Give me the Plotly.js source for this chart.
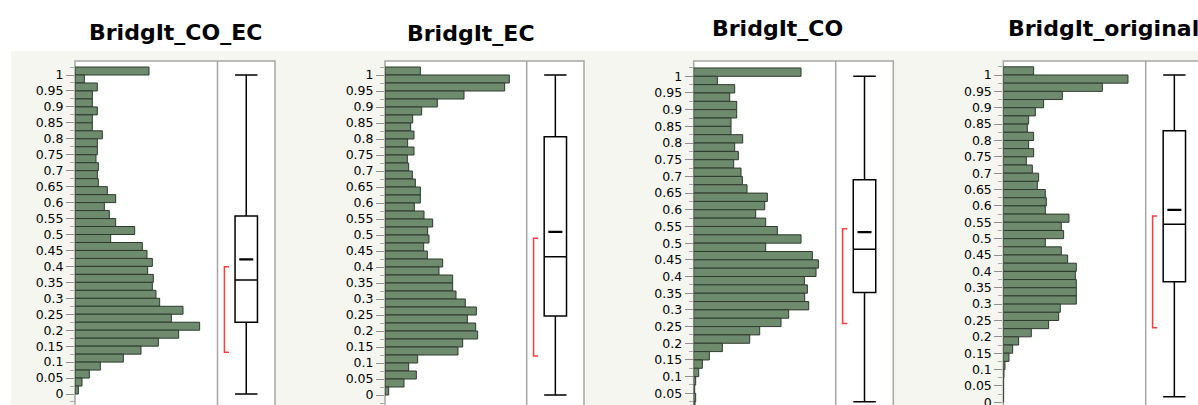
<!DOCTYPE html>
<html>
<head>
<meta charset="utf-8">
<script src="https://cdn.plot.ly/plotly-3.0.1.min.js"></script>
<style>
  html, body { margin: 0; padding: 0; background: #ffffff; }
  #chart { width: 1198px; height: 405px; }
</style>
</head>
<body>
<div id="chart"></div>
<script>
// ---------- DATA ----------
// lower edge of each histogram bin (bin width 0.025), top to bottom
const binStart = [1.0, 0.975, 0.95, 0.925, 0.9, 0.875, 0.85, 0.825, 0.8, 0.775,
  0.75, 0.725, 0.7, 0.675, 0.65, 0.625, 0.6, 0.575, 0.55, 0.525,
  0.5, 0.475, 0.45, 0.425, 0.4, 0.375, 0.35, 0.325, 0.3, 0.275,
  0.25, 0.225, 0.2, 0.175, 0.15, 0.125, 0.1, 0.075, 0.05, 0.025, 0];

// bar lengths (relative counts) per bin, same order as binStart
const countsCoEc = [222, 28, 67, 52, 52, 67, 52, 52, 82, 67,
  67, 63, 70, 67, 70, 97, 122, 88, 103, 122,
  179, 107, 202, 216, 232, 218, 235, 232, 243, 254,
  324, 289, 374, 311, 250, 198, 145, 76, 43, 21, 10];
const countsEc = [106, 373, 359, 237, 157, 110, 83, 77, 87, 68,
  87, 67, 71, 82, 91, 106, 106, 88, 117, 143,
  128, 132, 116, 127, 173, 162, 203, 203, 213, 241,
  274, 247, 272, 278, 233, 219, 98, 71, 94, 57, 11];
const countsCo = [322, 71, 123, 108, 129, 129, 112, 112, 147, 123,
  134, 120, 142, 146, 160, 221, 213, 186, 216, 251,
  322, 216, 356, 374, 367, 332, 341, 333, 345, 285,
  262, 198, 168, 86, 47, 26, 15, 6, 3, 6, 4];
const countsOriginal = [91, 374, 297, 177, 121, 96, 76, 72, 91, 76,
  91, 69, 87, 106, 102, 126, 129, 126, 197, 174,
  181, 126, 174, 193, 219, 216, 219, 219, 219, 171,
  166, 136, 84, 46, 28, 17, 5, 2, 1, 1, 1];

// box plot summaries: [lower whisker, q1, median, q3, upper whisker]
const boxCoEc     = [0.0,   0.225, 0.357, 0.558, 1.0];
const boxEc       = [0.0,   0.247, 0.432, 0.807, 1.0];
const boxCo       = [0.025, 0.352, 0.4815, 0.690, 1.0];
const boxOriginal = [0.017, 0.368, 0.544, 0.830, 1.0];
const means = [0.422, 0.510, 0.533, 0.588];
// shortest half [low, high]
const shortestHalf = [[0.131, 0.399], [0.122, 0.490], [0.259, 0.543], [0.228, 0.569]];

const titles = ['BridgIt_CO_EC', 'BridgIt_EC', 'BridgIt_CO', 'BridgIt_original'];

const tickVals = [0, 0.05, 0.1, 0.15, 0.2, 0.25, 0.3, 0.35, 0.4, 0.45, 0.5,
  0.55, 0.6, 0.65, 0.7, 0.75, 0.8, 0.85, 0.9, 0.95, 1];
const tickText = ['0', '0.05', '0.1', '0.15', '0.2', '0.25', '0.3', '0.35', '0.4', '0.45', '0.5',
  '0.55', '0.6', '0.65', '0.7', '0.75', '0.8', '0.85', '0.9', '0.95', '1'];

// ---------- LAYOUT GEOMETRY (pixels) ----------
const W = 1198, H = 405;
const px = x => x / W;
const py = y => 1 - y / H;

const panels = [
  { counts: countsCoEc, box: boxCoEc, left: 75,     divider: 217.5, right: 275,    top: 61, y1: 75,   y0: 394,   tx: 175,  ty: 32,   tanchor: 'center' },
  { counts: countsEc,   box: boxEc,   left: 385,    divider: 526.7, right: 584,    top: 61, y1: 75,   y0: 395,   tx: 471,  ty: 33,   tanchor: 'center' },
  { counts: countsCo,   box: boxCo,   left: 693.7,  divider: 835.7, right: 893.3,  top: 61, y1: 76.3, y0: 410,   tx: 777,  ty: 28.5, tanchor: 'center' },
  { counts: countsOriginal, box: boxOriginal, left: 1003.3, divider: 1145.7, right: 1203, top: 61, y1: 75, y0: 402.3, tx: 1006, ty: 28.5, tanchor: 'left' }
];

const barColor = '#6f8b6e';
const barLine = '#2e3a2e';
const frameColor = '#a6a6a6';

const traces = [];
const layout = {
  width: W, height: H,
  margin: { l: 0, r: 0, t: 0, b: 0, pad: 0 },
  paper_bgcolor: '#ffffff',
  plot_bgcolor: 'rgba(0,0,0,0)',
  showlegend: false,
  bargap: 0,
  shapes: [],
  annotations: []
};

// gray panel background
layout.shapes.push({
  type: 'rect', xref: 'paper', yref: 'paper', layer: 'below',
  x0: px(11), x1: px(W + 5), y0: py(51), y1: py(H + 10),
  fillcolor: '#f6f6f1', line: { width: 0 }
});

panels.forEach((p, i) => {
  const hx = 'x' + (2 * i + 1), bx = 'x' + (2 * i + 2), yy = 'y' + (i + 1);
  const hxKey = 'xaxis' + (2 * i + 1 === 1 ? '' : (2 * i + 1));
  const bxKey = 'xaxis' + (2 * i + 2);
  const yKey = 'yaxis' + (i === 0 ? '' : (i + 1));

  const scale = p.y0 - p.y1; // px per unit
  const yRange = [(p.y0 - H) / scale, (p.y0 - p.top) / scale];
  const yDomain = [0, py(p.top)];

  // histogram x axis (bar length in 1/3 px units)
  layout[hxKey] = {
    domain: [px(p.left), px(p.divider)],
    range: [0, 3 * (p.divider - p.left)],
    anchor: yy, showgrid: false, zeroline: false, showticklabels: false,
    ticks: '', showline: false, fixedrange: true
  };
  // box x axis
  const center = (p.divider + p.right) / 2;
  const unit = (p.right - p.divider) / 2;
  const domEnd = Math.min(p.right, W);
  layout[bxKey] = {
    domain: [px(p.divider), px(domEnd)],
    range: [(p.divider - center) / unit, (domEnd - center) / unit],
    anchor: yy, showgrid: false, zeroline: false, showticklabels: false,
    ticks: '', showline: false, fixedrange: true
  };
  // shared value axis
  layout[yKey] = {
    domain: yDomain, range: yRange, anchor: hx,
    tickmode: 'array', tickvals: tickVals, ticktext: tickText,
    ticks: 'outside', ticklen: 8, tickwidth: 1, tickcolor: '#8f8f8f',
    minor: { ticks: 'outside', ticklen: 4, tickwidth: 1, tickcolor: '#a8a8a8', dtick: 0.025, tick0: 0, showgrid: false },
    showgrid: false, zeroline: false, showline: false,
    ticklabeloverflow: 'allow',
    tickfont: { family: 'DejaVu Sans, sans-serif', size: 12.5, color: '#000000' },
    fixedrange: true
  };

  // frame
  layout.shapes.push({
    type: 'rect', xref: 'paper', yref: 'paper', layer: 'below',
    x0: px(p.left), x1: px(p.right), y0: py(p.top), y1: py(H + 10),
    fillcolor: '#ffffff', line: { color: frameColor, width: 1.5 }
  });
  layout.shapes.push({
    type: 'line', xref: 'paper', yref: 'paper', layer: 'below',
    x0: px(p.divider), x1: px(p.divider), y0: py(p.top), y1: py(H + 10),
    line: { color: frameColor, width: 1.5 }
  });

  // histogram
  traces.push({
    type: 'bar', orientation: 'h',
    x: p.counts, y: binStart, width: 0.025, offset: 0,
    xaxis: hx, yaxis: yy,
    marker: { color: barColor, line: { color: barLine, width: 1 } },
    hoverinfo: 'skip'
  });

  // box plot
  traces.push({
    type: 'box', orientation: 'v',
    x: [0],
    lowerfence: [p.box[0]], q1: [p.box[1]], median: [p.box[2]], q3: [p.box[3]], upperfence: [p.box[4]],
    width: 0.78, whiskerwidth: 1, boxpoints: false,
    fillcolor: '#ffffff', line: { color: '#000000', width: 1.5 },
    xaxis: bx, yaxis: yy, hoverinfo: 'skip'
  });

  // mean marker
  traces.push({
    type: 'scatter', mode: 'markers', x: [0], y: [means[i]],
    xaxis: bx, yaxis: yy,
    marker: { symbol: 'line-ew', size: 10, line: { color: '#000000', width: 2.2 } },
    hoverinfo: 'skip'
  });

  // shortest half bracket
  const sh = shortestHalf[i];
  traces.push({
    type: 'scatter', mode: 'lines',
    x: [-0.60, -0.76, -0.76, -0.60], y: [sh[1], sh[1], sh[0], sh[0]],
    xaxis: bx, yaxis: yy,
    line: { color: '#ff3b3b', width: 1.5 },
    hoverinfo: 'skip'
  });

  // title
  layout.annotations.push({
    xref: 'paper', yref: 'paper', x: px(p.tx), y: py(p.ty),
    xanchor: p.tanchor, yanchor: 'middle', showarrow: false,
    text: titles[i],
    font: { family: 'DejaVu Sans, sans-serif', size: 22, weight: 700, color: '#000000' }
  });
});

Plotly.newPlot('chart', traces, layout, { staticPlot: true, displayModeBar: false });
</script>
</body>
</html>
